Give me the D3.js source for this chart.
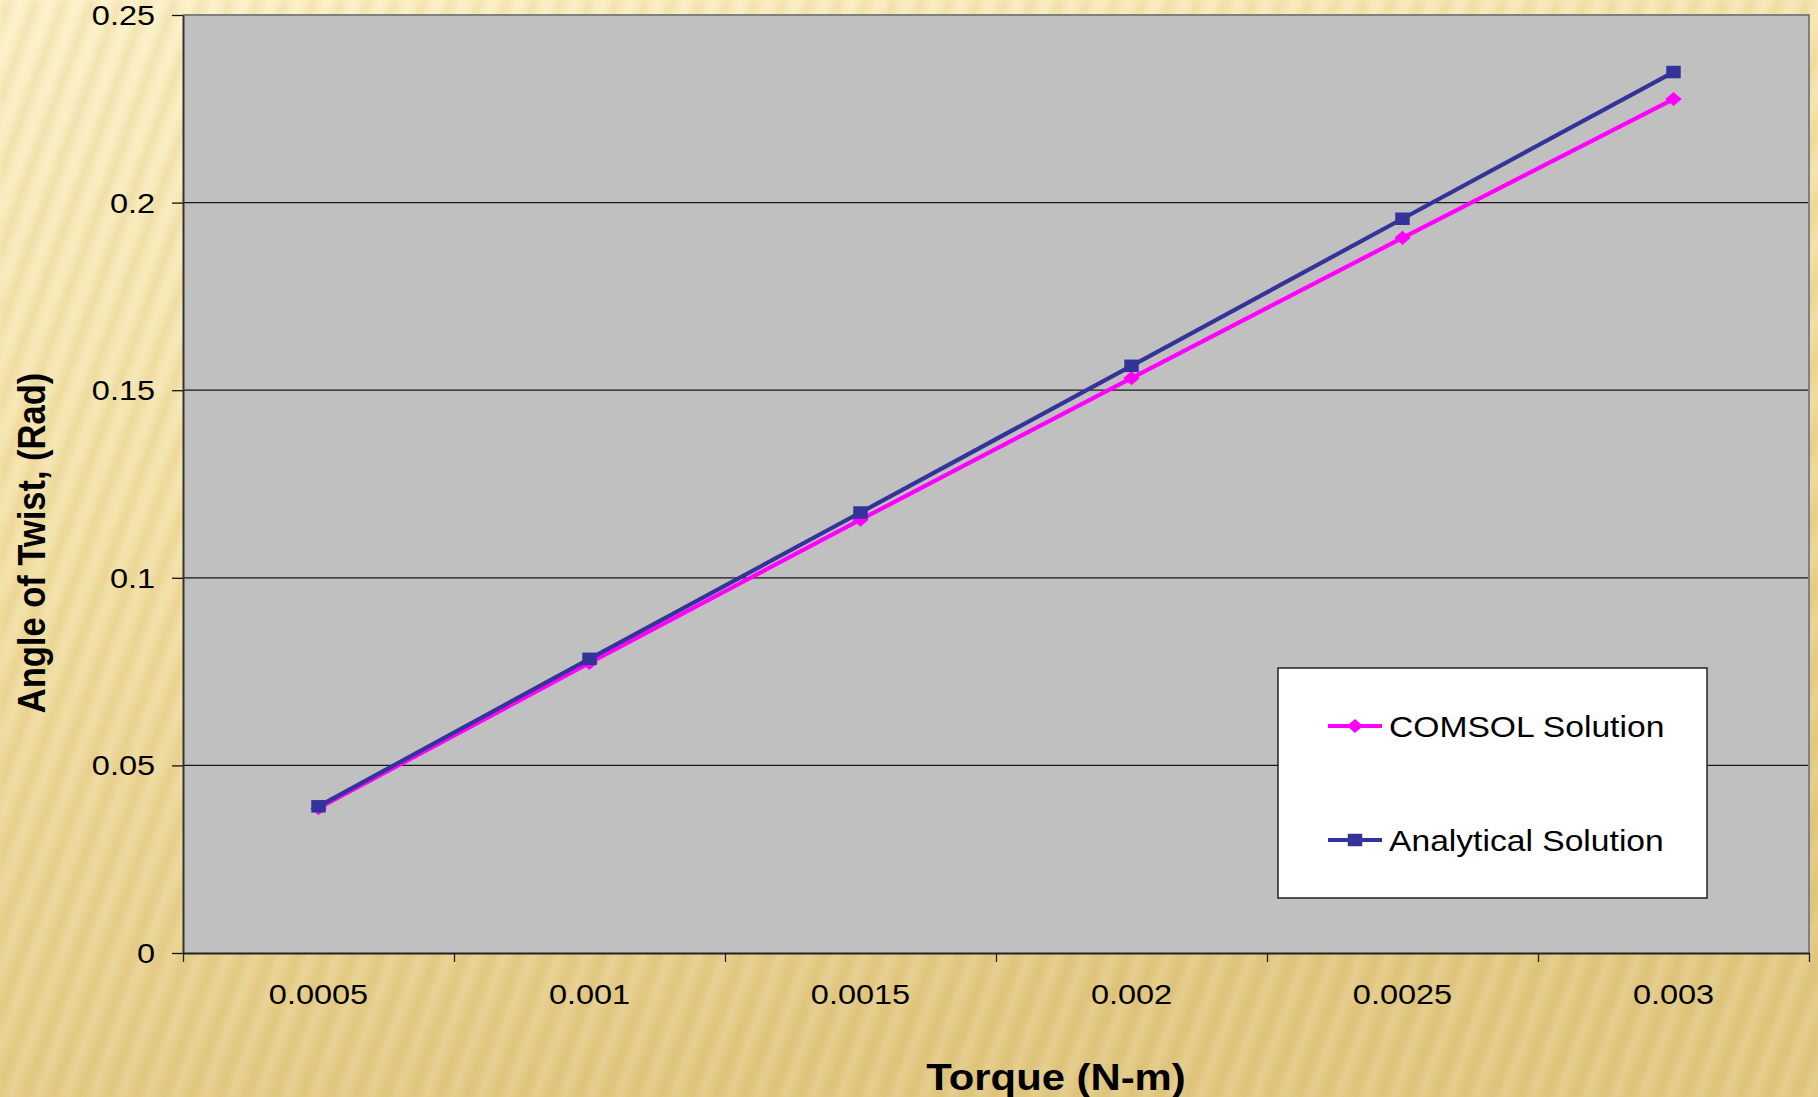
<!DOCTYPE html>
<html>
<head>
<meta charset="utf-8">
<script src="https://cdn.jsdelivr.net/npm/d3@7"></script>
<style>
  html, body { margin: 0; padding: 0; background: #f6e4ac; }
  svg { display: block; }
  text { font-family: "Liberation Sans", Arial, sans-serif; fill: #000; }
</style>
</head>
<body>
<svg id="chart" width="1818" height="1097"></svg>
<script>
// Torque values (category axis) and the two angle-of-twist series
const torqueLabels = ["0.0005", "0.001", "0.0015", "0.002", "0.0025", "0.003"];
const comsolValues = [0.0386, 0.0773, 0.1155, 0.1532, 0.1906, 0.2276];
const analyticalValues = [0.0391, 0.0784, 0.1174, 0.1565, 0.1957, 0.2348];
const yTickValues = [0, 0.05, 0.1, 0.15, 0.2, 0.25];
const yTickLabels = ["0", "0.05", "0.1", "0.15", "0.2", "0.25"];
const seriesNames = ["COMSOL Solution", "Analytical Solution"];

const W = 1818, H = 1097;
const plot = { left: 183, right: 1809, top: 15, bottom: 953 };
const stretch = 1.16; // horizontal text stretch

const svg = d3.select("#chart");
const defs = svg.append("defs");

// ---- background: warm gradient with soft diagonal stripes ----
const bg = defs.append("linearGradient").attr("id", "bgGrad")
  .attr("x1", 0).attr("y1", 0).attr("x2", 0.35).attr("y2", 1);
bg.append("stop").attr("offset", 0).attr("stop-color", "#fcf1c8");
bg.append("stop").attr("offset", 0.45).attr("stop-color", "#f3e1a6");
bg.append("stop").attr("offset", 1).attr("stop-color", "#e2c882");

const stripeGrad = defs.append("linearGradient").attr("id", "stripeGrad")
  .attr("x1", 0).attr("y1", 0).attr("x2", 1).attr("y2", 0);
stripeGrad.append("stop").attr("offset", 0).attr("stop-color", "#c9a650").attr("stop-opacity", 0);
stripeGrad.append("stop").attr("offset", 0.35).attr("stop-color", "#c9a650").attr("stop-opacity", 0.2);
stripeGrad.append("stop").attr("offset", 0.55).attr("stop-color", "#c9a650").attr("stop-opacity", 0.04);
stripeGrad.append("stop").attr("offset", 0.75).attr("stop-color", "#ffffff").attr("stop-opacity", 0.16);
stripeGrad.append("stop").attr("offset", 1).attr("stop-color", "#ffffff").attr("stop-opacity", 0);

const pat = defs.append("pattern").attr("id", "stripes")
  .attr("patternUnits", "userSpaceOnUse")
  .attr("width", 26).attr("height", 400)
  .attr("patternTransform", "rotate(20)");
pat.append("rect").attr("width", 26).attr("height", 400).attr("fill", "url(#stripeGrad)");

defs.append("filter").attr("id", "soft")
  .attr("x", 0).attr("y", 0).attr("width", 1).attr("height", 1)
  .append("feGaussianBlur").attr("stdDeviation", 2.5);

svg.append("rect").attr("width", W).attr("height", H).attr("fill", "url(#bgGrad)");
svg.append("rect").attr("width", W).attr("height", H).attr("fill", "url(#stripes)")
  .attr("filter", "url(#soft)");

// ---- scales ----
const xBand = d3.scaleBand().domain(torqueLabels).range([plot.left, plot.right]).paddingInner(0).paddingOuter(0);
const xEdges = d3.scaleLinear().domain([0, torqueLabels.length]).range([plot.left, plot.right]);
const y = d3.scaleLinear().domain([0, 0.25]).range([plot.bottom, plot.top]);
const xPos = (i) => xBand(torqueLabels[i]) + xBand.bandwidth() / 2;

// ---- plot area ----
svg.append("rect")
  .attr("x", plot.left).attr("y", plot.top)
  .attr("width", plot.right - plot.left).attr("height", plot.bottom - plot.top)
  .attr("fill", "#c0c0c0");

// horizontal gridlines
svg.append("g").selectAll("line")
  .data(yTickValues.filter(v => v > 0 && v < 0.25))
  .join("line")
  .attr("x1", plot.left).attr("x2", plot.right)
  .attr("y1", d => y(d)).attr("y2", d => y(d))
  .attr("stroke", "#1a1a1a").attr("stroke-width", 1.3);

// plot border (top & right)
svg.append("path")
  .attr("d", `M${plot.left},${plot.top}H${plot.right}V${plot.bottom}`)
  .attr("fill", "none").attr("stroke", "#808080").attr("stroke-width", 2);

// ---- y axis ----
const yAxis = svg.append("g")
  .attr("transform", `translate(${plot.left},0)`)
  .call(d3.axisLeft(y).tickValues(yTickValues)
    .tickFormat((d, i) => yTickLabels[i]).tickSize(11).tickSizeOuter(0));
yAxis.select(".domain").attr("stroke", "#333").attr("stroke-width", 2);
yAxis.selectAll(".tick line").attr("stroke", "#111").attr("stroke-width", 1.3);
yAxis.selectAll(".tick text")
  .attr("font-size", 28).attr("font-family", "Liberation Sans, Arial, sans-serif")
  .attr("fill", "#000")
  .attr("x", -28 / stretch).attr("dy", "0.34em")
  .attr("transform", `scale(${stretch},1)`);

// ---- x axis: tick marks between categories ----
const xTickAxis = svg.append("g")
  .attr("transform", `translate(0,${plot.bottom})`)
  .call(d3.axisBottom(xEdges).tickValues(d3.range(torqueLabels.length + 1))
    .tickFormat("").tickSize(9).tickSizeOuter(0));
xTickAxis.select(".domain").attr("stroke", "#222").attr("stroke-width", 2);
xTickAxis.selectAll(".tick line").attr("stroke", "#222").attr("stroke-width", 1.3);

// ---- x axis: category labels ----
const xLabelAxis = svg.append("g")
  .attr("transform", `translate(0,${plot.bottom})`)
  .call(d3.axisBottom(xBand).tickSize(0).tickSizeOuter(0));
xLabelAxis.select(".domain").remove();
xLabelAxis.selectAll(".tick text")
  .attr("font-size", 28).attr("font-family", "Liberation Sans, Arial, sans-serif")
  .attr("fill", "#000")
  .attr("x", 0).attr("y", 51).attr("dy", 0)
  .attr("transform", `scale(${stretch},1)`);

// ---- axis titles ----
svg.append("text")
  .attr("transform", `translate(1056,1090) scale(1.13,1)`)
  .attr("text-anchor", "middle")
  .attr("font-size", 37).attr("font-weight", "bold")
  .text("Torque (N-m)");

svg.append("text")
  .attr("transform", `translate(45,543) scale(1.13,1) rotate(-90)`)
  .attr("text-anchor", "middle")
  .attr("font-size", 34.5).attr("font-weight", "bold")
  .text("Angle of Twist, (Rad)");

// ---- marker shapes ----
const diamondType = {
  draw(ctx, size) {
    const r = Math.sqrt(size) / 2;
    ctx.moveTo(0, -r); ctx.lineTo(r, 0); ctx.lineTo(0, r); ctx.lineTo(-r, 0); ctx.closePath();
  }
};
const squareMarker = d3.symbol().type(d3.symbolSquare).size(156)();
const diamondMarker = d3.symbol().type(diamondType).size(200)();

const series = [
  { name: seriesNames[0], values: comsolValues, color: "#ff00ff", marker: diamondMarker },
  { name: seriesNames[1], values: analyticalValues, color: "#333399", marker: squareMarker }
];

const line = d3.line().x((d, i) => xPos(i)).y(d => y(d));

series.forEach(s => {
  const g = svg.append("g");
  g.append("path")
    .attr("d", line(s.values))
    .attr("fill", "none").attr("stroke", s.color)
    .attr("stroke-width", 4.2).attr("stroke-linejoin", "round");
  g.selectAll("path.marker")
    .data(s.values)
    .join("path").attr("class", "marker")
    .attr("d", s.marker)
    .attr("transform", (d, i) => `translate(${xPos(i)},${y(d)}) scale(${stretch},1)`)
    .attr("fill", s.color);
});

// ---- legend ----
const legend = svg.append("g");
legend.append("rect")
  .attr("x", 1278).attr("y", 668).attr("width", 429).attr("height", 230)
  .attr("fill", "#ffffff").attr("stroke", "#222").attr("stroke-width", 1.5);

const legendRows = [726, 840];
series.forEach((s, i) => {
  const ly = legendRows[i];
  legend.append("line")
    .attr("x1", 1328).attr("x2", 1382).attr("y1", ly).attr("y2", ly)
    .attr("stroke", s.color).attr("stroke-width", 4.2);
  legend.append("path")
    .attr("d", s.marker)
    .attr("transform", `translate(1355,${ly}) scale(${stretch},1)`)
    .attr("fill", s.color);
  legend.append("text")
    .attr("transform", `translate(1389,${ly + 11}) scale(${stretch},1)`)
    .attr("font-size", 29)
    .text(s.name);
});
</script>
</body>
</html>
